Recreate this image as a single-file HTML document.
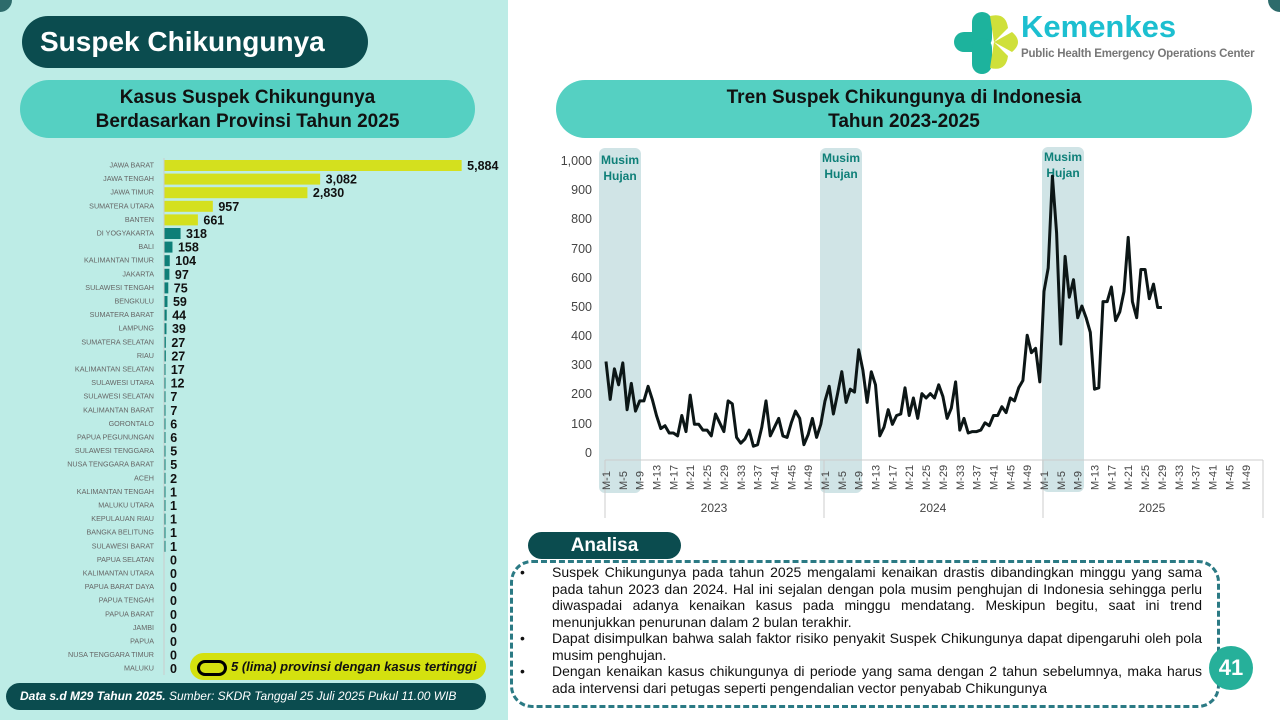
<!DOCTYPE html>
<html><head><meta charset="utf-8">
<style>
body{margin:0;width:1280px;height:720px;overflow:hidden;background:#fff;font-family:"Liberation Sans",sans-serif;position:relative}
.abs{position:absolute}
.bl{position:relative;padding-left:32px}
.bl:before{content:"•";position:absolute;left:0;top:0}
</style></head>
<body>
<div class="abs" style="left:0;top:0;width:508px;height:720px;background:#bdece6"></div>
<div class="abs" style="left:-12px;top:-12px;width:24px;height:24px;border-radius:50%;background:#2d6b6b"></div>
<div class="abs" style="left:1268px;top:-12px;width:24px;height:24px;border-radius:50%;background:#2d6b6b"></div>

<div class="abs" style="left:22px;top:16px;width:346px;height:52px;border-radius:26px;background:#0b4c4f;color:#fff;font-weight:bold;font-size:28px;line-height:52px;padding-left:18px;box-sizing:border-box">Suspek Chikungunya</div>
<div class="abs" style="left:20px;top:80px;width:455px;height:58px;border-radius:29px;background:#55d0c2;color:#111;font-weight:bold;font-size:19px;line-height:24px;text-align:center;padding-top:6px;box-sizing:border-box">Kasus Suspek Chikungunya<br>Berdasarkan Provinsi Tahun 2025</div>
<div class="abs" style="left:556px;top:80px;width:696px;height:58px;border-radius:29px;background:#55d0c2;color:#111;font-weight:bold;font-size:19px;line-height:24px;text-align:center;padding-top:6px;box-sizing:border-box">Tren Suspek Chikungunya di Indonesia<br>Tahun 2023-2025</div>

<!-- logo -->
<svg class="abs" style="left:950px;top:8px" width="80" height="68" viewBox="0 0 80 68">
<rect x="4" y="24" width="34" height="20" rx="10" fill="#1db39d"/>
<rect x="22" y="4" width="20" height="36" rx="10" fill="#1db39d"/>
<rect x="22" y="30" width="20" height="36" rx="10" fill="#1db39d"/>
<path d="M40 8 Q56 4 58 20 L44 34 Z" fill="#cfe03a"/>
<path d="M44 34 L62 24 Q74 34 62 44 Z" fill="#cfe03a"/>
<path d="M40 60 Q56 64 58 48 L44 34 Z" fill="#cfe03a"/>
</svg>
<div class="abs" style="left:1021px;top:9px;font-size:31px;font-weight:bold;color:#1cbfd0">Kemenkes</div>
<div class="abs" style="left:1021px;top:48px;font-size:11.5px;font-weight:bold;color:#777;white-space:nowrap;letter-spacing:-0.2px">Public Health Emergency Operations Center</div>

<!-- bar chart -->
<svg class="abs" style="left:0;top:150px" width="508" height="530">
<line x1="164" y1="8" x2="164" y2="525" stroke="#ccc" stroke-width="1"/>
<g id="bars" font-family="Liberation Sans,sans-serif">
<text x="154" y="17.5" font-size="7.2" fill="#666" text-anchor="end">JAWA BARAT</text>
<text x="154" y="31.1" font-size="7.2" fill="#666" text-anchor="end">JAWA TENGAH</text>
<text x="154" y="44.7" font-size="7.2" fill="#666" text-anchor="end">JAWA TIMUR</text>
<text x="154" y="58.3" font-size="7.2" fill="#666" text-anchor="end">SUMATERA UTARA</text>
<text x="154" y="71.9" font-size="7.2" fill="#666" text-anchor="end">BANTEN</text>
<text x="154" y="85.5" font-size="7.2" fill="#666" text-anchor="end">DI YOGYAKARTA</text>
<text x="154" y="99.1" font-size="7.2" fill="#666" text-anchor="end">BALI</text>
<text x="154" y="112.7" font-size="7.2" fill="#666" text-anchor="end">KALIMANTAN TIMUR</text>
<text x="154" y="126.3" font-size="7.2" fill="#666" text-anchor="end">JAKARTA</text>
<text x="154" y="139.9" font-size="7.2" fill="#666" text-anchor="end">SULAWESI TENGAH</text>
<text x="154" y="153.5" font-size="7.2" fill="#666" text-anchor="end">BENGKULU</text>
<text x="154" y="167.1" font-size="7.2" fill="#666" text-anchor="end">SUMATERA BARAT</text>
<text x="154" y="180.7" font-size="7.2" fill="#666" text-anchor="end">LAMPUNG</text>
<text x="154" y="194.3" font-size="7.2" fill="#666" text-anchor="end">SUMATERA SELATAN</text>
<text x="154" y="207.9" font-size="7.2" fill="#666" text-anchor="end">RIAU</text>
<text x="154" y="221.5" font-size="7.2" fill="#666" text-anchor="end">KALIMANTAN SELATAN</text>
<text x="154" y="235.1" font-size="7.2" fill="#666" text-anchor="end">SULAWESI UTARA</text>
<text x="154" y="248.7" font-size="7.2" fill="#666" text-anchor="end">SULAWESI SELATAN</text>
<text x="154" y="262.3" font-size="7.2" fill="#666" text-anchor="end">KALIMANTAN BARAT</text>
<text x="154" y="275.9" font-size="7.2" fill="#666" text-anchor="end">GORONTALO</text>
<text x="154" y="289.5" font-size="7.2" fill="#666" text-anchor="end">PAPUA PEGUNUNGAN</text>
<text x="154" y="303.1" font-size="7.2" fill="#666" text-anchor="end">SULAWESI TENGGARA</text>
<text x="154" y="316.7" font-size="7.2" fill="#666" text-anchor="end">NUSA TENGGARA BARAT</text>
<text x="154" y="330.3" font-size="7.2" fill="#666" text-anchor="end">ACEH</text>
<text x="154" y="343.9" font-size="7.2" fill="#666" text-anchor="end">KALIMANTAN TENGAH</text>
<text x="154" y="357.5" font-size="7.2" fill="#666" text-anchor="end">MALUKU UTARA</text>
<text x="154" y="371.1" font-size="7.2" fill="#666" text-anchor="end">KEPULAUAN RIAU</text>
<text x="154" y="384.7" font-size="7.2" fill="#666" text-anchor="end">BANGKA BELITUNG</text>
<text x="154" y="398.3" font-size="7.2" fill="#666" text-anchor="end">SULAWESI BARAT</text>
<text x="154" y="411.9" font-size="7.2" fill="#666" text-anchor="end">PAPUA SELATAN</text>
<text x="154" y="425.5" font-size="7.2" fill="#666" text-anchor="end">KALIMANTAN UTARA</text>
<text x="154" y="439.1" font-size="7.2" fill="#666" text-anchor="end">PAPUA BARAT DAYA</text>
<text x="154" y="452.7" font-size="7.2" fill="#666" text-anchor="end">PAPUA TENGAH</text>
<text x="154" y="466.3" font-size="7.2" fill="#666" text-anchor="end">PAPUA BARAT</text>
<text x="154" y="479.9" font-size="7.2" fill="#666" text-anchor="end">JAMBI</text>
<text x="154" y="493.5" font-size="7.2" fill="#666" text-anchor="end">PAPUA</text>
<text x="154" y="507.1" font-size="7.2" fill="#666" text-anchor="end">NUSA TENGGARA TIMUR</text>
<text x="154" y="520.7" font-size="7.2" fill="#666" text-anchor="end">MALUKU</text>
</g>
</svg>

<div class="abs" style="left:190px;top:653px;width:296px;height:27px;border-radius:14px;background:#d4e10f;font-size:13px;font-weight:bold;font-style:italic;line-height:27px;color:#111"><span style="display:inline-block;width:24px;height:10px;border:3px solid #000;border-radius:8px;vertical-align:middle;margin:0 4px 0 7px"></span>5 (lima) provinsi dengan kasus tertinggi</div>
<div class="abs" style="left:6px;top:683px;width:480px;height:27px;border-radius:14px;background:#0b4c4f;color:#fff;font-size:12px;font-style:italic;line-height:27px;padding-left:14px;box-sizing:border-box"><b>Data s.d M29 Tahun 2025.</b> Sumber: SKDR Tanggal 25 Juli 2025 Pukul 11.00 WIB</div>

<!-- line chart -->
<svg class="abs" style="left:0;top:0" width="1280" height="530" font-family="Liberation Sans,sans-serif">
<rect x="599" y="148" width="42" height="345" rx="6" fill="#d0e4e6"/>
<rect x="820" y="148" width="42" height="345" rx="6" fill="#d0e4e6"/>
<rect x="1042" y="147" width="42" height="345" rx="6" fill="#d0e4e6"/>
<g font-size="12" font-weight="bold" fill="#0e7f78" text-anchor="middle">
<text x="620" y="164">Musim</text><text x="620" y="180">Hujan</text>
<text x="841" y="162">Musim</text><text x="841" y="178">Hujan</text>
<text x="1063" y="161">Musim</text><text x="1063" y="177">Hujan</text>
</g>
<g font-size="12.5" fill="#444" text-anchor="end">
<text x="592" y="165">1,000</text><text x="592" y="194">900</text><text x="592" y="223">800</text><text x="592" y="253">700</text><text x="592" y="282">600</text><text x="592" y="311">500</text><text x="592" y="340">400</text><text x="592" y="369">300</text><text x="592" y="398">200</text><text x="592" y="428">100</text><text x="592" y="457">0</text>
</g>
<g stroke="#ccc" stroke-width="1" fill="none">
<line x1="605" y1="460" x2="1263" y2="460"/>
<line x1="605" y1="460" x2="605" y2="518"/><line x1="824" y1="460" x2="824" y2="518"/><line x1="1043" y1="460" x2="1043" y2="518"/><line x1="1263" y1="460" x2="1263" y2="518"/>
</g>
<g id="xt" font-size="11" fill="#444"></g>
<g font-size="12" fill="#444" text-anchor="middle"><text x="714" y="512">2023</text><text x="933" y="512">2024</text><text x="1152" y="512">2025</text></g>
<polyline id="ln" fill="none" stroke="#0c1616" stroke-width="3" stroke-linejoin="round"/>
</svg>

<!-- Analisa -->
<div class="abs" style="left:528px;top:532px;width:153px;height:27px;border-radius:14px;background:#0b4c4f;color:#fff;font-weight:bold;font-size:19px;line-height:27px;text-align:center">Analisa</div>
<div class="abs" style="left:510px;top:560px;width:710px;height:148px;border:3px dashed #2b7a84;border-radius:22px;box-sizing:border-box"></div>
<div class="abs" style="left:520px;top:564px;width:682px;font-size:14px;line-height:16.5px;color:#111;text-align:justify">
<div class="bl">Suspek Chikungunya pada tahun 2025 mengalami kenaikan drastis dibandingkan minggu yang sama pada tahun 2023 dan 2024. Hal ini sejalan dengan pola musim penghujan di Indonesia sehingga perlu diwaspadai adanya kenaikan kasus pada minggu mendatang. Meskipun begitu, saat ini trend menunjukkan penurunan dalam 2 bulan terakhir.</div>
<div class="bl">Dapat disimpulkan bahwa salah faktor risiko penyakit Suspek Chikungunya dapat dipengaruhi oleh pola musim penghujan.</div>
<div class="bl">Dengan kenaikan kasus chikungunya di periode yang sama dengan 2 tahun sebelumnya, maka harus ada intervensi dari petugas seperti pengendalian vector penyabab Chikungunya</div>
</div>
<div class="abs" style="left:1209px;top:646px;width:44px;height:44px;border-radius:50%;background:#26b09a;color:#fff;font-weight:bold;font-size:22px;line-height:44px;text-align:center">41</div>

<script>
var V=[5884,3082,2830,957,661,318,158,104,97,75,59,44,39,27,27,17,12,7,7,6,6,5,5,2,1,1,1,1,1,0,0,0,0,0,0,0,0,0];
var g=document.getElementById('bars'),h='';
V.forEach(function(v,i){var y=15+i*13.6,w=v*0.0505;
if(w>0)h+='<rect x="164.5" y="'+(y-5)+'" width="'+Math.max(w,1)+'" height="11" fill="'+(i<5?'#d4e01e':'#0e7f78')+'"/>';
h+='<text x="'+(164+w+6)+'" y="'+(y+5)+'" font-size="12.5" font-weight="bold" fill="#111">'+v.toLocaleString('en-US')+'</text>';});
g.insertAdjacentHTML('beforeend',h);
var d23=[310,180,285,230,305,145,235,140,175,175,225,180,125,80,90,65,65,55,125,70,195,95,95,75,75,55,130,100,70,175,165,50,30,45,75,20,25,85,175,55,85,115,55,50,100,140,115,25,60,115,50,95];
var d24=[175,225,130,200,275,170,215,205,350,280,170,275,230,55,85,145,95,125,130,220,125,185,115,200,185,200,185,230,190,115,150,240,75,115,65,70,70,75,100,90,125,125,155,135,185,175,220,245,400,340,355,240];
var d25=[550,630,945,750,370,670,530,590,460,500,460,410,215,220,515,515,565,450,480,550,735,515,460,625,625,525,575,495,495];
var pts=[],st=219/52;
[[d23,606],[d24,825],[d25,1044]].forEach(function(a){a[0].forEach(function(v,i){pts.push((a[1]+i*st).toFixed(1)+','+(452-v*0.292).toFixed(1));});});
document.getElementById('ln').setAttribute('points',pts.join(' '));
var xt='';[606,825,1044].forEach(function(b){for(var w=1;w<=49;w+=4){var x=b+(w-1)*st+4;xt+='<text transform="translate('+x.toFixed(1)+',490) rotate(-90)">M-'+w+'</text>';}});
document.getElementById('xt').innerHTML=xt;
</script>
</body></html>
